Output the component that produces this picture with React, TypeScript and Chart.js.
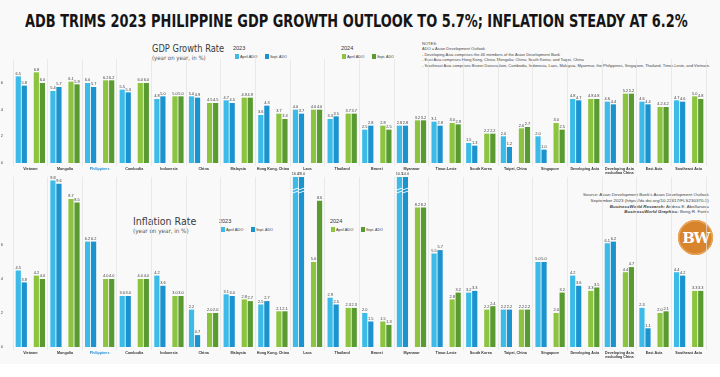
import React, { useEffect, useLayoutEffect, useRef } from "react";
import { Chart, registerables } from "chart.js";
Chart.register(...registerables);

const NARROW = '"Liberation Sans Narrow", "DejaVu Sans Condensed", "Liberation Sans", sans-serif';
const SANS = '"Liberation Sans", Arial, sans-serif';

const categories: (string | string[])[] = [
  "Vietnam", "Mongolia", "Philippines", "Cambodia", "Indonesia", "China", "Malaysia",
  "Hong Kong, China", "Laos", "Thailand", "Brunei", "Myanmar", "Timor-Leste", "South Korea",
  "Taipei, China", "Singapore", "Developing Asia", ["Developing Asia", "excluding China"],
  "East Asia", "Southeast Asia",
];

// GDP growth rate (year on year, %)
const gdp2023April = [6.5, 5.4, 6.0, 5.5, 4.8, 5.0, 4.7, 3.6, 4.0, 3.3, 2.5, 2.8, 3.1, 1.5, 2.0, 2.0, 4.8, 4.6, 4.6, 4.7];
const gdp2023Sept = [5.8, 5.7, 5.7, 5.3, 5.0, 4.9, 4.5, 4.3, 3.7, 3.5, 2.8, 2.8, 2.8, 1.3, 1.2, 1.0, 4.7, 4.4, 4.4, 4.6];
const gdp2024April = [6.8, 6.1, 6.2, 6.0, 5.0, 4.5, 4.9, 3.7, 4.0, 3.7, 2.8, 3.2, 3.0, 2.2, 2.6, 3.0, 4.8, 5.2, 4.2, 5.0];
const gdp2024Sept = [6.0, 5.9, 6.2, 6.0, 5.0, 4.5, 4.9, 3.3, 4.0, 3.7, 2.5, 3.2, 2.9, 2.2, 2.7, 2.5, 4.8, 5.2, 4.2, 4.8];

// Inflation rate (year on year, %)
const inf2023April = [4.5, 9.8, 6.2, 3.0, 4.2, 2.2, 3.1, 2.5, 16.0, 2.9, 2.0, 10.5, 5.5, 3.2, 2.2, 5.0, 4.2, 6.1, 2.3, 4.4];
const inf2023Sept = [3.8, 9.6, 6.2, 3.0, 3.6, 0.7, 3.0, 2.7, 28.0, 2.5, 1.5, 14.0, 5.7, 3.3, 2.2, 5.0, 3.6, 6.2, 1.1, 4.2];
const inf2024April = [4.2, 8.7, 4.0, 4.0, 3.0, 2.0, 2.8, 2.1, 5.0, 2.3, 1.5, 8.2, 2.8, 2.2, 2.2, 2.0, 3.3, 4.4, 2.0, 3.3];
const inf2024Sept = [4.0, 8.5, 4.0, 4.0, 3.0, 2.0, 2.7, 2.1, 8.6, 2.3, 1.3, 8.2, 3.2, 2.4, 2.2, 3.2, 3.5, 4.7, 2.1, 3.3];

const yTicks = [0, 2, 4, 6];

const C_LBLUE = "#3dbbe8";
const C_DBLUE = "#1a93cf";
const C_LGREEN = "#8cc43f";
const C_DGREEN = "#5a9b31";
const PHIL_BLUE = "#2a8fd8";

const valueLabels = {
  id: "valueLabels",
  afterDatasetsDraw(chart: any) {
    const { ctx, chartArea } = chart;
    ctx.save();
    ctx.font = `3.9px ${SANS}`;
    ctx.textAlign = "center";
    ctx.textBaseline = "bottom";
    chart.data.datasets.forEach((ds: any, i: number) => {
      if (ds.spacer) return;
      const meta = chart.getDatasetMeta(i);
      meta.data.forEach((el: any, j: number) => {
        const v = ds.data[j];
        if (v == null) return;
        const clipped = el.y < chartArea.top;
        const y = Math.max(el.y, chartArea.top);
        if (clipped) {
          ctx.strokeStyle = "#ffffff";
          ctx.lineWidth = 0.9;
          const w = el.width / 2 + 0.5;
          [12, 15].forEach((d) => {
            ctx.beginPath();
            ctx.moveTo(el.x - w, y + d + 1);
            ctx.lineTo(el.x + w, y + d - 1);
            ctx.stroke();
          });
        }
        ctx.fillStyle = "#3a3a3a";
        ctx.fillText(v.toFixed(1), el.x, y - 0.8);
      });
    });
    ctx.restore();
  },
};

function makeConfig(a1: number[], a2: number[], b1: number[], b2: number[], yMax: number, top: number, bottom: number, xH: number) {
  const H = 377;
  return {
    type: "bar",
    data: {
      labels: categories,
      datasets: [
        { label: "2023 April ADO", data: a1, backgroundColor: C_LBLUE },
        { label: "2023 Sept. ADO", data: a2, backgroundColor: C_DBLUE },
        { label: "", data: a1.map(() => null), spacer: true, backgroundColor: "rgba(0,0,0,0)" },
        { label: "2024 April ADO", data: b1, backgroundColor: C_LGREEN },
        { label: "2024 Sept. ADO", data: b2, backgroundColor: C_DGREEN },
      ],
    },
    options: {
      responsive: false,
      animation: false,
      events: [],
      layout: { padding: { left: 0, right: 14, top, bottom: H - bottom - xH } },
      datasets: { bar: { categoryPercentage: 0.87, barPercentage: 0.86 } },
      plugins: { legend: { display: false }, tooltip: { enabled: false } },
      scales: {
        x: {
          grid: { offset: true, color: "#e2e2e2", lineWidth: 0.7, drawTicks: true, tickLength: 3 },
          border: { display: false },
          ticks: {
            autoSkip: false,
            maxRotation: 0,
            minRotation: 0,
            padding: 0.5,
            font: { family: SANS, size: 3.7, weight: "bold", lineHeight: 1.2 },
            color: (c: any) => (c.index === 2 ? PHIL_BLUE : "#333333"),
          },
          afterFit: (s: any) => { s.height = xH; },
        },
        y: {
          min: 0,
          max: yMax,
          grid: { display: false },
          border: { display: false },
          afterBuildTicks: (s: any) => { s.ticks = yTicks.map((v) => ({ value: v })); },
          ticks: { font: { family: SANS, size: 4 }, color: "#444", padding: 2 },
          afterFit: (s: any) => { s.width = 13; },
        },
      },
    },
    plugins: [valueLabels],
  };
}

function ChartCanvas({ cfg }: { cfg: any }) {
  const ref = useRef<HTMLCanvasElement>(null);
  useEffect(() => {
    const chart = new Chart(ref.current as HTMLCanvasElement, cfg);
    return () => chart.destroy();
  }, []);
  return <canvas ref={ref} width={720} height={377} style={{ position: "absolute", left: 0, top: 0, width: 720, height: 377 }} />;
}

// Text block horizontally fitted to a target width (keeps real text)
function Fit({ x, y, w, children, style }: { x: number; y: number; w: number; children: any; style?: any }) {
  const ref = useRef<HTMLDivElement>(null);
  useLayoutEffect(() => {
    const el = ref.current;
    if (!el) return;
    const natural = el.scrollWidth;
    if (natural > 0) el.style.transform = `scaleX(${w / natural})`;
  }, []);
  return (
    <div ref={ref} style={{ position: "absolute", left: x, top: y, transformOrigin: "0 0", whiteSpace: "nowrap", lineHeight: 1, fontFamily: NARROW, color: "#333", ...(style || {}) }}>
      {children}
    </div>
  );
}

const Swatch = ({ x, y, color, text }: { x: number; y: number; color: string; text: string }) => (
  <>
    <div style={{ position: "absolute", left: x, top: y, width: 4, height: 5, background: color }} />
    <Fit x={x + 5} y={y + 0.8} w={17} style={{ fontSize: 4.4, fontFamily: SANS }}>{text}</Fit>
  </>
);

function Legend({ x23, x24, y }: { x23: number; x24: number; y: number }) {
  return (
    <>
      <Fit x={x23} y={y} w={12} style={{ fontSize: 5.5, fontFamily: SANS }}>2023</Fit>
      <Swatch x={x23 + 2} y={y + 8} color={C_LBLUE} text="April ADO" />
      <Swatch x={x23 + 32} y={y + 8} color={C_DBLUE} text="Sept. ADO" />
      <Fit x={x24} y={y} w={12} style={{ fontSize: 5.5, fontFamily: SANS }}>2024</Fit>
      <Swatch x={x24 + 1} y={y + 8} color={C_LGREEN} text="April ADO" />
      <Swatch x={x24 + 31} y={y + 8} color={C_DGREEN} text="Sept. ADO" />
    </>
  );
}

export default function App() {
  const gdpCfg = makeConfig(gdp2023April, gdp2023Sept, gdp2024April, gdp2024Sept, 7.8, 59, 163, 11);
  const infCfg = makeConfig(inf2023April, inf2023Sept, inf2024April, inf2024Sept, 10, 177, 347, 16);
  return (
    <div style={{ position: "fixed", left: 0, top: 0, width: 720, height: 377, background: "#ffffff", overflow: "hidden" }}>
      <div style={{ position: "absolute", left: 0, top: 0, width: 720, height: 364, background: "#f9f9f9" }} />
      <Fit x={25} y={12} w={663} style={{ fontSize: 18, fontWeight: "bold", color: "#151515" }}>
        ADB TRIMS 2023 PHILIPPINE GDP GROWTH OUTLOOK TO 5.7%; INFLATION STEADY AT 6.2%
      </Fit>

      <Fit x={152} y={44} w={72} style={{ fontSize: 10, color: "#3a3a3a" }}>GDP Growth Rate</Fit>
      <Fit x={152} y={55} w={54} style={{ fontSize: 6, color: "#555" }}>(year on year, in %)</Fit>
      <Legend x23={233} x24={341} y={46} />

      <Fit x={422} y={41} w={288} style={{ fontSize: 4.2, lineHeight: "5.4px", color: "#444", fontFamily: SANS }}>
        <div>NOTES:</div>
        <div>ADO = Asian Development Outlook</div>
        <div>- Developing Asia comprises the 46 members of the Asian Development Bank</div>
        <div>- East Asia comprises Hong Kong, China; Mongolia; China; South Korea; and Taipei, China</div>
        <div>- Southeast Asia comprises Brunei Darussalam, Cambodia, Indonesia, Laos, Malaysia, Myanmar, the Philippines, Singapore, Thailand, Timor-Leste, and Vietnam.</div>
      </Fit>

      <Fit x={133} y={217} w={63} style={{ fontSize: 10, color: "#3a3a3a" }}>Inflation Rate</Fit>
      <Fit x={133} y={228} w={56} style={{ fontSize: 6, color: "#555" }}>(year on year, in %)</Fit>
      <Legend x23={219} x24={330} y={219} />

      <Fit x={583} y={192} w={126} style={{ fontSize: 4.4, lineHeight: "5.8px", color: "#444", textAlign: "right", fontFamily: SANS }}>
        <div>Source: Asian Development Bank's Asian Development Outlook</div>
        <div>September 2023 (https://dx.doi.org/10.22617/FLS230370-3)</div>
        <div><i><b>BusinessWorld Research:</b></i> Andrea E. Abellanosa</div>
        <div><i><b>BusinessWorld Graphics:</b></i> Bong R. Fortin</div>
      </Fit>

      <div style={{ position: "absolute", left: 678, top: 220, width: 35, height: 35, borderRadius: "50%", background: "#d8842c", boxShadow: "inset 0 0 0 1.5px #e9a55a", display: "flex", alignItems: "center", justifyContent: "center" }}>
        <span style={{ color: "#fff", fontFamily: '"DejaVu Serif", "Liberation Serif", serif', fontWeight: "bold", fontSize: 15, letterSpacing: -1.5 }}>BW</span>
      </div>

      <ChartCanvas cfg={gdpCfg} />
      <ChartCanvas cfg={infCfg} />
    </div>
  );
}
